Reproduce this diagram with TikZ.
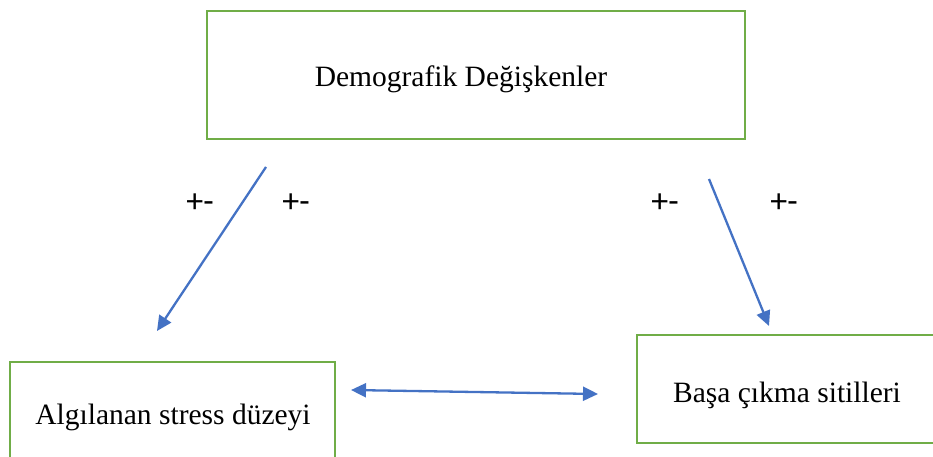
\documentclass[tikz,border=0pt]{standalone}
\usepackage{fontspec}
\setmainfont{Liberation Serif}
\newfontfamily\signfont{Carlito}
\usetikzlibrary{arrows.meta}
\definecolor{boxgreen}{HTML}{70AD47}
\definecolor{arrowblue}{HTML}{4472C4}
\tikzset{>={Triangle[length=15pt,width=14pt]}}
\tikzset{factor/.style = {shape=rectangle,draw=boxgreen,line width=2.5pt}}
\tikzset{caption/.style = {font=\fontsize{29.5}{34}\selectfont}}
\tikzset{link/.style = {->,draw=arrowblue,line width=2.3pt,fill=arrowblue}}
\tikzset{sign/.style = {font=\signfont\fontsize{34}{38}\selectfont}}

\begin{document}
\begin{tikzpicture}[x=1pt,y=-1pt]
            \useasboundingbox (0,0) rectangle (933,457);

            % Vertices
            \node[factor,minimum width=538pt,minimum height=128pt] (demog) at (476,75) {};
            \node[factor,minimum width=325pt,minimum height=108pt] (stress) at (172.5,416) {};
            \node[factor,minimum width=302pt,minimum height=108pt] (coping) at (788,389) {};

            % Captions
            \node[caption] (demogtext) at (461,79.5) {Demografik Değişkenler};
            \node[caption] (stresstext) at (173,417) {Algılanan stress düzeyi};
            \node[caption] (copingtext) at (787,395.5) {Başa çıkma sitilleri};

            % Arrow ends
            \coordinate (demogL) at (266,167);
            \coordinate (stressT) at (157,331);
            \coordinate (demogR) at (709,179);
            \coordinate (copingT) at (769,326);
            \coordinate (stressR) at (351,390);
            \coordinate (copingL) at (598,394);

            % Edges
            \draw[link] (demogL) -- (stressT);
            \draw[link] (demogR) -- (copingT);
            \draw[link,<->] (stressR) -- (copingL);

            % Signs
            \node[sign] (s1) at (200,203) {+-};
            \node[sign] (s2) at (296,203) {+-};
            \node[sign] (s3) at (665,203) {+-};
            \node[sign] (s4) at (784,203) {+-};
        \end{tikzpicture}
\end{document}
